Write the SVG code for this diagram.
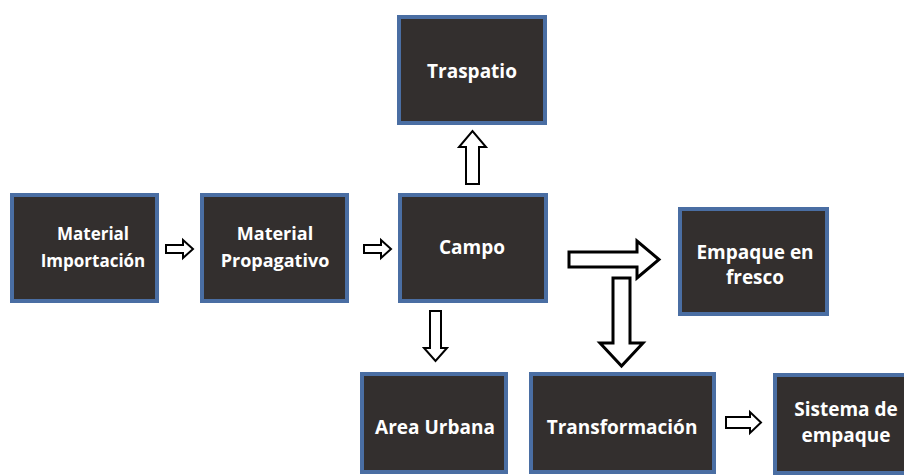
<svg xmlns="http://www.w3.org/2000/svg" width="904" height="475" viewBox="0 0 904 475">
<style>
.box{fill:#332f2e;stroke:#4a6ea3;stroke-width:4}
.t{fill:#ffffff;font-family:"Open Sans","Liberation Sans",sans-serif;font-weight:bold;font-size:19px;text-anchor:middle}
.s17{font-size:17px}
.s18{font-size:18px}
.ar{fill:#ffffff;stroke:#000000;stroke-width:2;stroke-linejoin:miter}
.arb{fill:#ffffff;stroke:#000000;stroke-width:3;stroke-linejoin:miter}
</style>
<rect width="904" height="475" fill="#ffffff"/>
<g id="importacion"><rect class="box" x="12" y="195" width="145" height="106"/><text class="t s17" x="93" y="240">Material</text><text class="t s17" x="93" y="267">Importación</text></g>
<g id="propagativo"><rect class="box" x="202" y="195" width="145" height="106"/><text class="t s18" x="275" y="240">Material</text><text class="t s18" x="275" y="267">Propagativo</text></g>
<g id="campo"><rect class="box" x="400" y="195" width="146" height="106"/><text class="t" x="472" y="254">Campo</text></g>
<g id="traspatio"><rect class="box" x="399" y="17" width="146" height="106"/><text class="t" x="472" y="78">Traspatio</text></g>
<g id="fresco"><rect class="box" x="680" y="209" width="147" height="105"/><text class="t" x="755" y="259">Empaque en</text><text class="t" x="755" y="284">fresco</text></g>
<g id="urbana"><rect class="box" x="362" y="374" width="144" height="98"/><text class="t" x="435" y="434">Area Urbana</text></g>
<g id="transformacion"><rect class="box" x="531" y="374" width="183" height="98"/><text class="t" x="622" y="434">Transformación</text></g>
<g id="sistema"><rect class="box" x="775" y="375" width="140" height="98"/><text class="t" x="846" y="416">Sistema de</text><text class="t" x="846" y="442">empaque</text></g>
<g id="connectors">
<polygon class="ar" points="166,245 183,245 183,240 193,249 183,258 183,253 166,253"/>
<polygon class="ar" points="364,245 381,245 381,240 391,249 381,258 381,253 364,253"/>
<polygon class="ar" points="466,184 466,147 459,147 472.5,131 486,147 479,147 479,184"/>
<polygon class="arb" points="569,252 637,252 637,241 659,259.5 637,278 637,267 569,267"/>
<polygon class="arb" points="613,278 630,278 630,343 643,343 621.5,366 600,343 613,343"/>
<polygon class="ar" points="430,311 441,311 441,348 447,348 435.5,361 424,348 430,348"/>
<polygon class="ar" points="726,417 750,417 750,412 761,422.5 750,433 750,428 726,428"/>
</g>
</svg>
